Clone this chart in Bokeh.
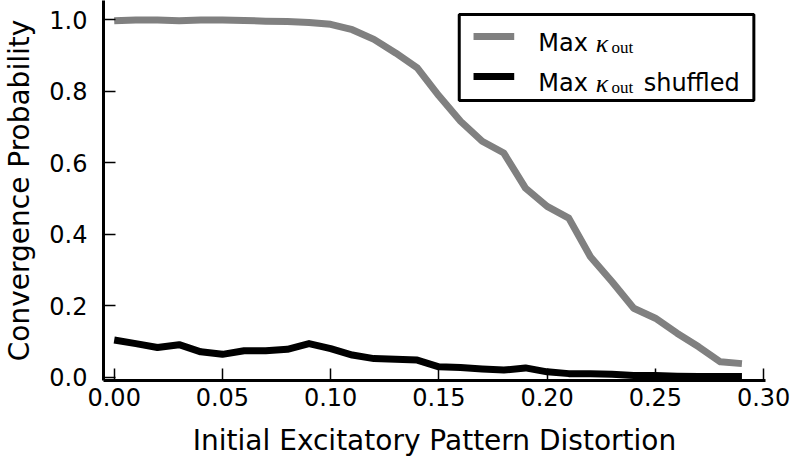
from bokeh.plotting import figure
from bokeh.models import Range1d, FixedTicker, PrintfTickFormatter, BoxAnnotation, Label, ColumnDataSource
from bokeh.embed import file_html
from bokeh.resources import INLINE

# ---- data ----
distortion = [0.00, 0.01, 0.02, 0.03, 0.04, 0.05, 0.06, 0.07, 0.08, 0.09,
              0.10, 0.11, 0.12, 0.13, 0.14, 0.15, 0.16, 0.17, 0.18, 0.19,
              0.20, 0.21, 0.22, 0.23, 0.24, 0.25, 0.26, 0.27, 0.28, 0.29]
max_kout = [0.997, 0.999, 0.999, 0.997, 0.999, 0.999, 0.998, 0.996, 0.995, 0.992,
            0.987, 0.972, 0.945, 0.907, 0.865, 0.787, 0.716, 0.660, 0.627, 0.529,
            0.478, 0.445, 0.337, 0.267, 0.193, 0.165, 0.123, 0.085, 0.043, 0.038]
max_kout_shuffled = [0.104, 0.094, 0.083, 0.091, 0.071, 0.064, 0.074, 0.074, 0.078, 0.094,
                     0.080, 0.062, 0.052, 0.050, 0.048, 0.029, 0.027, 0.023, 0.020, 0.026,
                     0.015, 0.010, 0.010, 0.008, 0.005, 0.005, 0.003, 0.002, 0.002, 0.002]
x_ticks = [0.00, 0.05, 0.10, 0.15, 0.20, 0.25, 0.30]
y_ticks = [0.0, 0.2, 0.4, 0.6, 0.8, 1.0]
series_colors = ["#808080", "black"]

src = ColumnDataSource(data=dict(x=distortion, a=max_kout, b=max_kout_shuffled))

FONT = "DejaVu Sans"

p = figure(width=793, height=465, output_backend="svg", toolbar_location=None,
           x_range=Range1d(-0.00494, 0.30088), y_range=Range1d(-0.0092, 1.0537),
           min_border_left=102, min_border_right=28, min_border_top=0, min_border_bottom=85)
p.outline_line_color = None
p.xgrid.visible = False
p.ygrid.visible = False
p.background_fill_color = "white"
p.border_fill_color = "white"

p.line("x", "a", source=src, line_color=series_colors[0], line_width=7, line_join="round", line_cap="butt")
p.line("x", "b", source=src, line_color=series_colors[1], line_width=7, line_join="round", line_cap="butt")

for ax in (p.xaxis[0], p.yaxis[0]):
    ax.axis_line_width = 3
    ax.axis_line_color = "black"
    ax.major_tick_in = 12
    ax.major_tick_out = 0
    ax.major_tick_line_width = 1.5
    ax.major_tick_line_color = "black"
    ax.minor_tick_line_color = None
    ax.major_label_text_font = FONT
    ax.major_label_text_font_size = "24px"
    ax.major_label_text_color = "black"
    ax.axis_label_text_font = FONT
    ax.axis_label_text_font_size = "28px"
    ax.axis_label_text_font_style = "normal"
    ax.axis_label_text_color = "black"

p.xaxis.ticker = FixedTicker(ticks=x_ticks)
p.yaxis.ticker = FixedTicker(ticks=y_ticks)
p.xaxis.formatter = PrintfTickFormatter(format="%.2f")
p.yaxis.formatter = PrintfTickFormatter(format="%.1f")
p.xaxis.axis_label = "Initial Excitatory Pattern Distortion"
p.yaxis.axis_label = "Convergence Probability"
p.xaxis.major_label_standoff = 7
p.yaxis.major_label_standoff = 16
p.xaxis.axis_label_standoff = 15
p.yaxis.axis_label_standoff = 10

# ---- legend (drawn manually to allow the subscript) ----
p.add_layout(BoxAnnotation(left=0.1594, right=0.2955, top=1.0146, bottom=0.7741,
                           fill_color="white", fill_alpha=1.0,
                           line_color="black", line_alpha=1.0, line_width=3, level="underlay"))
leg = ColumnDataSource(data=dict(x0=[0.1660, 0.1660], x1=[0.1848, 0.1848],
                                 y=[0.9530, 0.8411], c=series_colors))
p.segment(x0="x0", y0="y", x1="x1", y1="y", line_color="c", line_width=7, source=leg)

rows = [0.9343, 0.8224]
for yb in rows:
    p.add_layout(Label(x=0.1959, y=yb, text="Max", text_font=FONT, text_color="black",
                       text_font_size="24px", text_baseline="alphabetic"))
    p.add_layout(Label(x=0.2225, y=yb, text="κ", text_font="Liberation Serif", text_color="black",
                       text_font_style="italic", text_font_size="26px",
                       text_baseline="alphabetic"))
    p.add_layout(Label(x=0.2297, y=yb - 0.0112, text="out", text_font="Liberation Serif",
                       text_color="black", text_font_size="17px", text_baseline="alphabetic"))
p.add_layout(Label(x=0.2446, y=rows[1], text="shuffled", text_font=FONT, text_color="black",
                   text_font_size="24px", text_baseline="alphabetic"))

open("out.html", "w").write(file_html(p, INLINE))
